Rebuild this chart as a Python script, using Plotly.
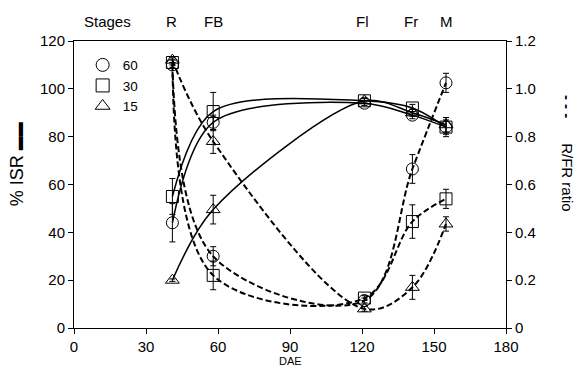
import plotly.graph_objects as go

# ---- data ----
dae = [41, 58, 121, 141, 155]
isr_60 = [44, 86, 94, 89, 84]
isr_30 = [55, 90.5, 95, 92, 84]
isr_15 = [20, 49.5, 95, 90, 85]
isr_60_err = [8, 3, 1, 1.5, 4]
isr_30_err = [7.5, 8, 1, 1.5, 3]
isr_15_err = [0.5, 6, 1, 1.5, 3]
rfr_60 = [1.10, 0.30, 0.115, 0.665, 1.025]
rfr_30 = [1.11, 0.22, 0.125, 0.445, 0.54]
rfr_15 = [1.12, 0.78, 0.08, 0.17, 0.435]
rfr_60_err = [0.01, 0.04, 0.01, 0.06, 0.04]
rfr_30_err = [0.01, 0.06, 0.01, 0.07, 0.04]
rfr_15_err = [0.01, 0.05, 0.01, 0.05, 0.03]
series_names = ["60", "30", "15"]
symbols = ["circle-open", "square-open", "triangle-up-open"]
stage_labels = ["R", "FB", "Fl", "Fr", "M"]
stage_dae = [40.5, 58, 120, 140.5, 155]
x_ticks = [0, 30, 60, 90, 120, 150, 180]
y_ticks = [0, 20, 40, 60, 80, 100, 120]
y2_ticks = [0, 0.2, 0.4, 0.6, 0.8, 1.0, 1.2]
y2_text = ["0", "0.2", "0.4", "0.6", "0.8", "1.0", "1.2"]

FONT = "Liberation Sans, Arial, sans-serif"
fig = go.Figure()

isr = [isr_60, isr_30, isr_15]
isr_err = [isr_60_err, isr_30_err, isr_15_err]
rfr = [rfr_60, rfr_30, rfr_15]
rfr_err = [rfr_60_err, rfr_30_err, rfr_15_err]

for i in range(3):
    fig.add_trace(go.Scatter(
        x=dae, y=isr[i], mode="lines+markers", yaxis="y",
        line=dict(color="black", width=1.5, shape="spline", smoothing=0.9),
        marker=dict(symbol=symbols[i], size=12, color="black", line=dict(width=1)),
        error_y=dict(type="data", array=isr_err[i], color="black", thickness=1, width=3),
        showlegend=False))
    fig.add_trace(go.Scatter(
        x=dae, y=rfr[i], mode="lines+markers", yaxis="y2",
        line=dict(color="black", width=2, shape="spline", smoothing=1, dash="6px,3px"),
        marker=dict(symbol=symbols[i], size=12, color="black", line=dict(width=1)),
        error_y=dict(type="data", array=rfr_err[i], color="black", thickness=1, width=3),
        showlegend=False))

for i in range(3):
    fig.add_trace(go.Scatter(
        x=[None], y=[None], mode="markers", name=series_names[i],
        marker=dict(symbol=symbols[i], size=13, color="black", line=dict(width=1))))

ann = []
ann.append(dict(x=14, y=1.0, xref="x", yref="paper", yshift=20, text="Stages",
                xanchor="center", yanchor="middle",
                showarrow=False, font=dict(family=FONT, size=15, color="black")))
for lab, xv in zip(stage_labels, stage_dae):
    ann.append(dict(x=xv, y=1.0, xref="x", yref="paper", yshift=20, text=lab,
                    xanchor="center", yanchor="middle",
                    showarrow=False, font=dict(family=FONT, size=15, color="black")))
ann.append(dict(x=0.5, y=0, xref="paper", yref="paper", yshift=-33, text="DAE",
                xanchor="center", yanchor="middle",
                showarrow=False, font=dict(family=FONT, size=11, color="black")))
ann.append(dict(x=-0.13, y=0.57, xref="paper", yref="paper", textangle=-90,
                xanchor="center", yanchor="middle",
                text="% ISR&nbsp;<span style='font-size:14px'><b>▬▬</b></span>", showarrow=False,
                font=dict(family=FONT, size=18, color="black")))
ann.append(dict(x=1.141, y=0.607, xref="paper", yref="paper", textangle=90,
                xanchor="center", yanchor="middle",
                text="<b>- - -</b>&nbsp;&nbsp;&nbsp;&nbsp;&nbsp;&nbsp;R/FR ratio", showarrow=False,
                font=dict(family=FONT, size=15, color="black")))

axis_common = dict(showline=True, linecolor="black", linewidth=1, ticks="outside",
                   ticklen=5, tickcolor="black", showgrid=False, zeroline=False,
                   tickfont=dict(family=FONT, size=15, color="black"))

fig.update_layout(
    width=578, height=367,
    margin=dict(l=74, r=72, t=41, b=36),
    paper_bgcolor="white", plot_bgcolor="white",
    xaxis=dict(range=[0, 180], tickvals=x_ticks, mirror=True, **axis_common),
    yaxis=dict(range=[0, 120], tickvals=y_ticks, **axis_common),
    yaxis2=dict(range=[0, 1.2], tickvals=y2_ticks, ticktext=y2_text, overlaying="y",
                side="right", **axis_common),
    legend=dict(x=0.02, y=0.97, xanchor="left", yanchor="top", bgcolor="rgba(0,0,0,0)",
                font=dict(family=FONT, size=13.5, color="black"), tracegroupgap=0),
    annotations=ann,
)

fig.write_html("out.html")
